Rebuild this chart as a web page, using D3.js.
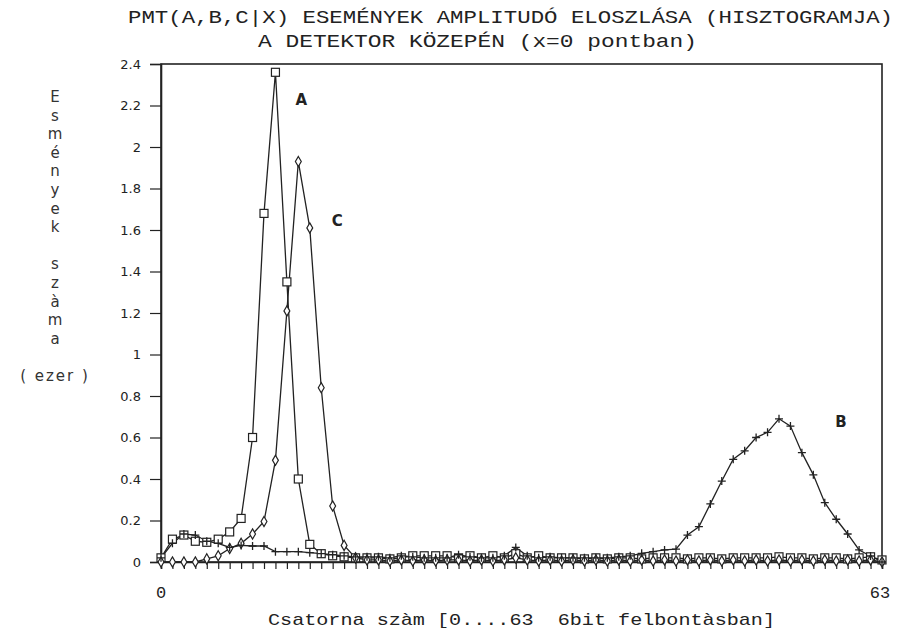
<!DOCTYPE html>
<html>
<head>
<meta charset="utf-8">
<script src="https://cdn.jsdelivr.net/npm/d3@7"></script>
<style>
  body { margin: 0; background: #fff; }
  svg { display: block; }
  text { white-space: pre; }
</style>
</head>
<body>
<svg id="chart" width="902" height="629"></svg>
<script>
// csatornak 0..63
var channels = d3.range(64);

// A sorozat (negyzet)
var seriesA = [0.02, 0.11, 0.13, 0.10, 0.095, 0.11, 0.145, 0.21, 0.60, 1.68,
  2.36, 1.35, 0.40, 0.085, 0.04, 0.03, 0.025, 0.02, 0.02, 0.02,
  0.015, 0.02, 0.03, 0.03, 0.03, 0.03, 0.02, 0.03, 0.02, 0.03,
  0.02, 0.04, 0.02, 0.03, 0.02, 0.02, 0.02, 0.015, 0.02, 0.015,
  0.02, 0.02, 0.015, 0.02, 0.02, 0.02, 0.015, 0.02, 0.02, 0.015,
  0.02, 0.02, 0.02, 0.02, 0.025, 0.02, 0.02, 0.015, 0.02, 0.02,
  0.015, 0.02, 0.025, 0.01];

// B sorozat (plusz)
var seriesB = [0.02, 0.09, 0.135, 0.13, 0.10, 0.09, 0.07, 0.08, 0.077, 0.077,
  0.05, 0.05, 0.05, 0.045, 0.04, 0.035, 0.03, 0.025, 0.025, 0.025,
  0.02, 0.03, 0.025, 0.02, 0.02, 0.02, 0.035, 0.025, 0.02, 0.02,
  0.03, 0.07, 0.03, 0.02, 0.025, 0.02, 0.02, 0.02, 0.02, 0.02,
  0.025, 0.03, 0.042, 0.05, 0.058, 0.062, 0.13, 0.17, 0.28, 0.39,
  0.495, 0.536, 0.60, 0.625, 0.69, 0.655, 0.527, 0.42, 0.286, 0.206,
  0.135, 0.058, 0.029, 0.0];

// C sorozat (rombusz)
var seriesC = [0.0, 0.0, 0.0, 0.0, 0.015, 0.03, 0.065, 0.09, 0.135, 0.195,
  0.49, 1.21, 1.93, 1.61, 0.84, 0.27, 0.08, 0.02, 0.01, 0.01,
  0.005, 0.01, 0.005, 0.01, 0.005, 0.01, 0.01, 0.005, 0.01, 0.005,
  0.01, 0.02, 0.01, 0.005, 0.01, 0.005, 0.01, 0.005, 0.01, 0.005,
  0.01, 0.005, 0.01, 0.005, 0.01, 0.005, 0.01, 0.005, 0.01, 0.005,
  0.01, 0.005, 0.01, 0.005, 0.01, 0.005, 0.01, 0.005, 0.01, 0.005,
  0.01, 0.005, 0.01, 0.0];

var yTicks = [0, 0.2, 0.4, 0.6, 0.8, 1, 1.2, 1.4, 1.6, 1.8, 2, 2.2, 2.4];
var xLabels = [0, 63];
var yTitle = ["E", "s", "m", "é", "n", "y", "e", "k", "", "s", "z", "à", "m", "a", "", "( ezer )"];

var ink = "#222";
var svg = d3.select("#chart");

var x = d3.scaleLinear().domain([0, 63]).range([161, 882]);
var y = d3.scaleLinear().domain([0, 2.4]).range([562, 64]);

// keret
svg.append("rect")
  .attr("x", x(0)).attr("y", y(2.4))
  .attr("width", x(63) - x(0)).attr("height", y(0) - y(2.4))
  .attr("fill", "none").attr("stroke", ink).attr("stroke-width", 1.6);

// y tengely
var yAxis = svg.append("g")
  .attr("transform", "translate(" + x(0) + ",0)")
  .call(d3.axisLeft(y).tickValues(yTicks).tickSize(11).tickPadding(9)
    .tickFormat(function(d) { return String(+d.toFixed(1)); }));
yAxis.select(".domain").attr("stroke", ink).attr("stroke-width", 1.6);
yAxis.selectAll(".tick line").attr("stroke", ink).attr("stroke-width", 1.2);
yAxis.selectAll(".tick text")
  .attr("font-family", "DejaVu Sans").attr("font-size", 13).attr("fill", ink);

// x tengely
var xAxis = svg.append("g")
  .attr("transform", "translate(0," + y(0) + ")")
  .call(d3.axisBottom(x).tickValues(channels).tickSize(7).tickFormat(""));
xAxis.select(".domain").attr("stroke", ink).attr("stroke-width", 1.6);
xAxis.selectAll(".tick line").attr("stroke", ink).attr("stroke-width", 1.2);

svg.selectAll(".xlab").data(xLabels).enter().append("text")
  .attr("class", "xlab")
  .attr("x", function(d) { return x(d) + (d === 63 ? -2 : 0); })
  .attr("y", 598)
  .attr("text-anchor", "middle")
  .attr("font-family", "Liberation Mono").attr("font-size", 17).attr("fill", ink)
  .text(function(d) { return d; });

// vonalak
var line = d3.line()
  .x(function(d, i) { return x(channels[i]); })
  .y(function(d) { return y(d); });

[seriesA, seriesB, seriesC].forEach(function(s) {
  svg.append("path").attr("d", line(s))
    .attr("fill", "none").attr("stroke", ink).attr("stroke-width", 1.3);
});

// jelolok
svg.selectAll(".mA").data(seriesA).enter().append("rect")
  .attr("x", function(d, i) { return x(channels[i]) - 4; })
  .attr("y", function(d) { return y(d) - 4; })
  .attr("width", 8).attr("height", 8)
  .attr("fill", "#fff").attr("stroke", ink).attr("stroke-width", 1.2);

var diamond = d3.symbol().type(d3.symbolDiamond).size(30);
svg.selectAll(".mC").data(seriesC).enter().append("path")
  .attr("d", diamond)
  .attr("transform", function(d, i) { return "translate(" + x(channels[i]) + "," + y(d) + ")"; })
  .attr("fill", "#fff").attr("stroke", ink).attr("stroke-width", 1.2);

svg.selectAll(".mB").data(seriesB).enter().append("path")
  .attr("d", "M-4,0H4M0,-4V4")
  .attr("transform", function(d, i) { return "translate(" + x(channels[i]) + "," + y(d) + ")"; })
  .attr("fill", "none").attr("stroke", ink).attr("stroke-width", 1.3);

// cimkek
var tags = [{t: "A", c: 10, v: 2.23}, {t: "C", c: 13, v: 1.65}, {t: "B", c: 57, v: 0.68}];
svg.selectAll(".tag").data(tags).enter().append("text")
  .attr("x", function(d) { return x(d.c) + (d.t === "A" ? 20 : 22); })
  .attr("y", function(d) { return y(d.v) + 6; })
  .attr("font-family", "DejaVu Sans").attr("font-weight", "bold")
  .attr("font-size", 15).attr("fill", ink)
  .text(function(d) { return d.t; });

// cim
svg.append("text")
  .attr("x", 128).attr("y", 23)
  .attr("font-family", "Liberation Mono").attr("font-size", 19).attr("fill", ink)
  .attr("textLength", 765).attr("lengthAdjust", "spacingAndGlyphs")
  .text("PMT(A,B,C|X) ESEMÉNYEK AMPLITUDÓ ELOSZLÁSA (HISZTOGRAMJA)");
svg.append("text")
  .attr("x", 258).attr("y", 47)
  .attr("font-family", "Liberation Mono").attr("font-size", 19).attr("fill", ink)
  .attr("textLength", 439).attr("lengthAdjust", "spacingAndGlyphs")
  .text("A DETEKTOR KÖZEPÉN (x=0 pontban)");

// y cim, betunkent
svg.selectAll(".yt").data(yTitle).enter().append("text")
  .attr("x", 55)
  .attr("y", function(d, i) { return 102 + i * 18.6; })
  .attr("text-anchor", "middle")
  .attr("font-family", "DejaVu Sans").attr("font-size", 15).attr("fill", "#333")
  .attr("letter-spacing", function(d) { return d.length > 1 ? 2 : 0; })
  .text(function(d) { return d; });

// x cim
svg.append("text")
  .attr("x", 268).attr("y", 625)
  .attr("font-family", "Liberation Mono").attr("font-size", 17).attr("fill", ink)
  .attr("textLength", 507).attr("lengthAdjust", "spacingAndGlyphs")
  .text("Csatorna szàm [0....63  6bit felbontàsban]");
</script>
</body>
</html>
